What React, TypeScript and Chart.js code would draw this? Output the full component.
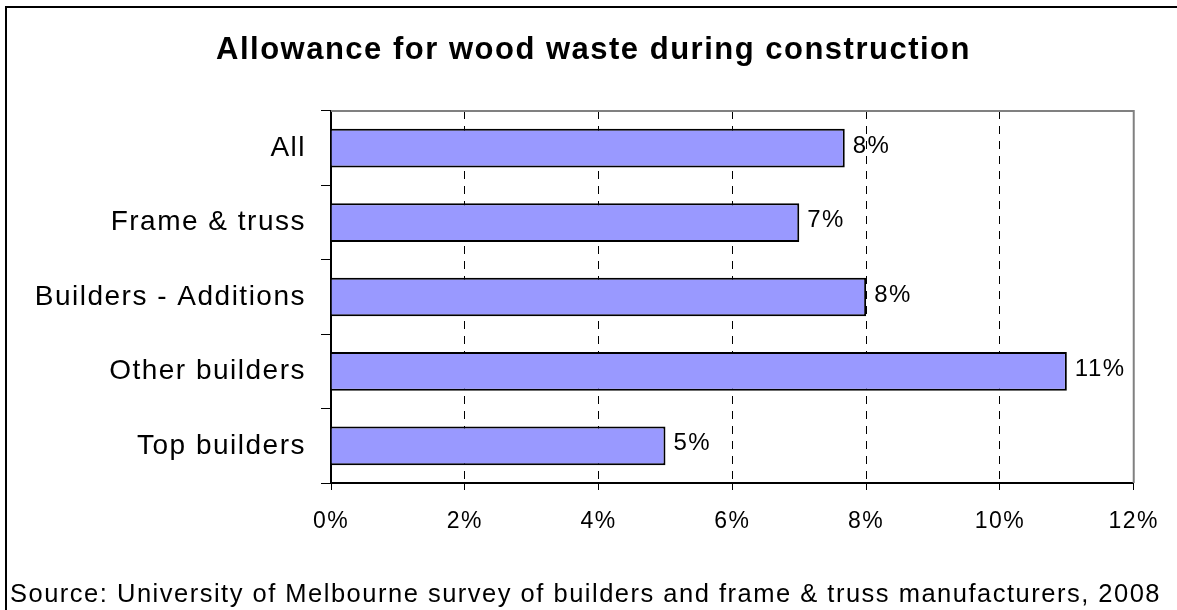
import React, { useEffect, useRef } from 'react';
import { Chart, registerables } from 'chart.js';

Chart.register(...registerables);

const TITLE = 'Allowance for wood waste during construction';
const SOURCE = 'Source: University of Melbourne survey of builders and frame & truss manufacturers, 2008';
const categories = ['All', 'Frame & truss', 'Builders - Additions', 'Other builders', 'Top builders'];
const wasteAllowance = [7.68, 7.0, 8.0, 11.0, 5.0];
const xMin = 0;
const xMax = 12;
const xStep = 2;

const FONT = '"Liberation Sans", Arial, Helvetica, sans-serif';
const SPACING = '1.5px';

const setSpacing = (chart: any) => {
  try {
    chart.ctx.letterSpacing = SPACING;
  } catch (e) {}
};

const spacingPlugin = {
  id: 'letterSpacingPlugin',
  beforeUpdate: setSpacing,
  beforeLayout: setSpacing,
  beforeRender: setSpacing,
  beforeDraw: setSpacing,
};

const frameAndLabelsPlugin = {
  id: 'frameAndLabels',
  beforeDatasetsDraw(chart: any) {
    const { ctx, chartArea } = chart;
    ctx.save();
    ctx.strokeStyle = '#808080';
    ctx.lineWidth = 2;
    ctx.beginPath();
    ctx.moveTo(chartArea.left, chartArea.top);
    ctx.lineTo(chartArea.right, chartArea.top);
    ctx.lineTo(chartArea.right, chartArea.bottom);
    ctx.stroke();
    ctx.restore();
  },
  afterDatasetsDraw(chart: any) {
    const { ctx } = chart;
    const meta = chart.getDatasetMeta(0);
    const data = chart.data.datasets[0].data as number[];
    ctx.save();
    ctx.font = `24px ${FONT}`;
    ctx.fillStyle = '#000';
    ctx.textAlign = 'left';
    ctx.textBaseline = 'middle';
    meta.data.forEach((el: any, i: number) => {
      ctx.fillText(Math.round(data[i]) + '%', el.x + 8, el.y - 2);
    });
    ctx.restore();
  },
};

export default function App() {
  const canvasRef = useRef<HTMLCanvasElement | null>(null);

  useEffect(() => {
    if (!canvasRef.current) return;
    const chart = new Chart(canvasRef.current, {
      type: 'bar',
      data: {
        labels: categories,
        datasets: [
          {
            data: wasteAllowance,
            backgroundColor: '#9999FF',
            borderColor: '#000000',
            borderWidth: 2,
            categoryPercentage: 1,
            barPercentage: 0.52,
          },
        ],
      },
      options: {
        indexAxis: 'y',
        responsive: false,
        animation: false,
        devicePixelRatio: 1,
        layout: { padding: { left: 10, right: 0, top: 0, bottom: 0 } },
        plugins: {
          legend: { display: false },
          tooltip: { enabled: false },
          title: {
            display: true,
            text: TITLE,
            color: '#000',
            font: { family: FONT, size: 31, weight: 'bold' },
            padding: { top: 32, bottom: 41.8 },
          },
          subtitle: {
            display: true,
            text: SOURCE,
            position: 'bottom',
            align: 'start',
            color: '#000',
            font: { family: FONT, size: 25.5 },
            padding: { top: 0, bottom: 0 },
          },
        },
        scales: {
          x: {
            type: 'linear',
            position: 'bottom',
            min: xMin,
            max: xMax,
            ticks: {
              stepSize: xStep,
              color: '#000',
              font: { family: FONT, size: 23 },
              padding: 18,
              maxRotation: 0,
              autoSkip: false,
              callback: (v: any) => v + '%',
            },
            grid: {
              display: true,
              drawOnChartArea: true,
              drawTicks: true,
              tickLength: 7,
              tickColor: '#000',
              tickWidth: 1,
              lineWidth: 1,
              color: (c: any) =>
                c.tick && (c.tick.value === xMin || c.tick.value === xMax) ? 'rgba(0,0,0,0)' : '#000',
            },
            border: { display: true, color: '#000', width: 2, dash: [8, 7] },
            afterFit: (s: any) => {
              s.height = 96.4;
            },
          },
          y: {
            type: 'category',
            position: 'left',
            offset: true,
            ticks: {
              color: '#000',
              font: { family: FONT, size: 28 },
              padding: 15,
            },
            grid: {
              display: true,
              offset: true,
              drawOnChartArea: false,
              drawTicks: true,
              tickLength: 10,
              tickColor: '#000',
              color: '#000',
              lineWidth: 1,
            },
            border: { display: true, color: '#000', width: 2 },
            afterFit: (s: any) => {
              s.width = 321;
            },
          },
          yRight: {
            type: 'linear',
            position: 'right',
            display: true,
            ticks: { display: false },
            grid: { display: false, drawTicks: false },
            border: { display: false },
            afterFit: (s: any) => {
              s.width = 42;
            },
          },
        },
      } as any,
      plugins: [spacingPlugin, frameAndLabelsPlugin],
    });
    return () => chart.destroy();
  }, []);

  return (
    <div
      style={{
        position: 'fixed',
        left: 0,
        top: 0,
        width: 1177,
        height: 610,
        overflow: 'hidden',
        background: '#fff',
      }}
    >
      <div
        style={{
          position: 'absolute',
          left: 5,
          top: 6,
          width: 1300,
          height: 700,
          borderLeft: '2px solid #000',
          borderTop: '2px solid #000',
        }}
      />
      <canvas
        ref={canvasRef}
        width={1177}
        height={610}
        style={{ position: 'absolute', left: 0, top: 0, width: 1177, height: 610 }}
      />
    </div>
  );
}
